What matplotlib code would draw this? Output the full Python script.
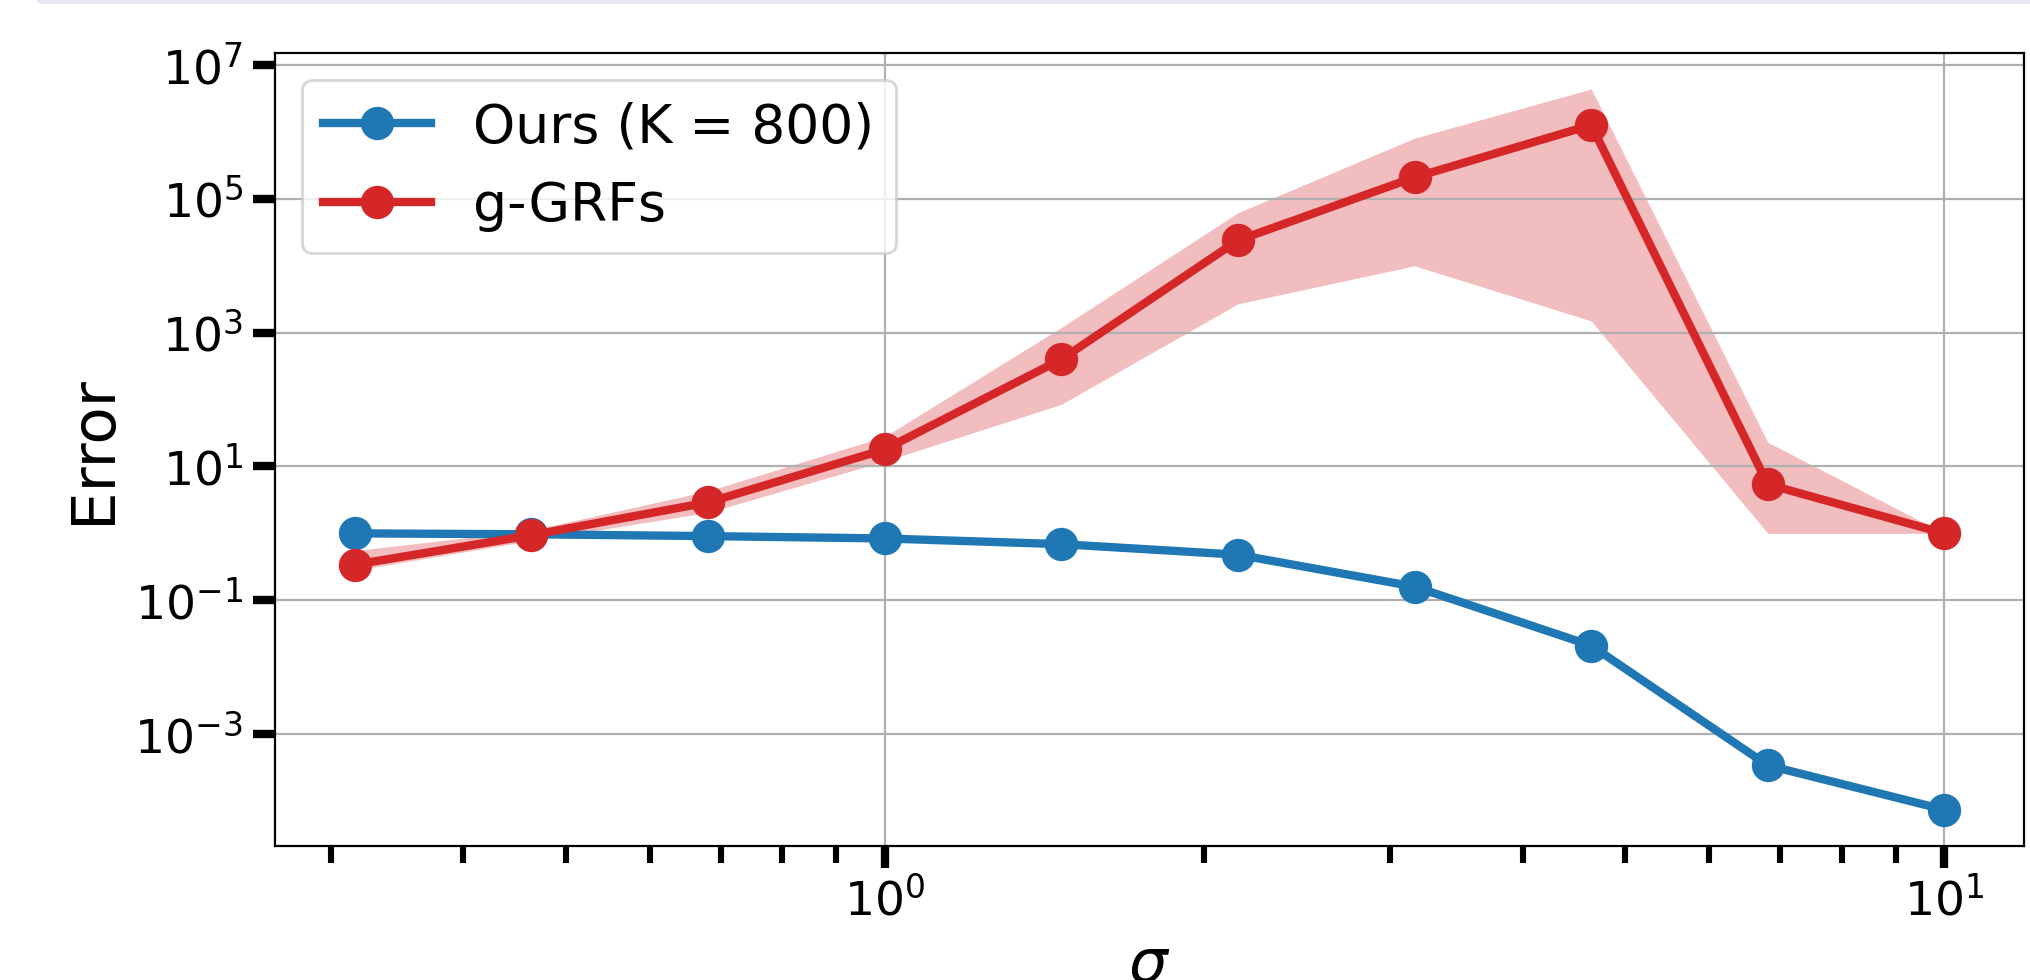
import matplotlib
matplotlib.use('Agg')
import matplotlib.pyplot as plt
import numpy as np
from matplotlib.patches import FancyBboxPatch
from matplotlib.ticker import NullLocator

# sigma values (10 points, 1/6 decade apart from 10^-0.5 to 10^1)
sigma = [0.316, 0.464, 0.681, 1.0, 1.468, 2.154, 3.162, 4.642, 6.813, 10.0]

# Ours (K = 800)
ours = [1.0, 0.97, 0.91, 0.84, 0.69, 0.48, 0.16, 0.021, 3.4e-4, 7.4e-5]

# g-GRFs mean and spread
ggrf = [0.34, 0.94, 2.9, 18.0, 400.0, 2.4e4, 2.1e5, 1.27e6, 5.4, 1.0]
ggrf_hi = [0.55, 1.12, 4.3, 28.0, 1.2e3, 6.2e4, 8.1e5, 4.4e6, 23.0, 1.0]
ggrf_lo = [0.28, 0.78, 2.05, 12.0, 85.0, 2.7e3, 1.0e4, 1.5e3, 1.0, 1.0]

yticks = [1e-3, 1e-1, 1e1, 1e3, 1e5, 1e7]

fig = plt.figure(figsize=(10.15, 4.9), dpi=200)
ax = fig.add_axes([0.1355, 0.137, 0.8615, 0.809])

# light banner strip at the very top (page artefact)
fig.patches.append(FancyBboxPatch((0.018, 0.996), 0.99, 0.02, boxstyle='round,pad=0,rounding_size=0.004',
                                  transform=fig.transFigure, facecolor='#e6e8f2', edgecolor='none'))

ax.plot(sigma, ours, '-o', color='tab:blue', lw=3, ms=11, label='Ours (K = 800)')
ax.fill_between(sigma, ggrf_lo, ggrf_hi, color='tab:red', alpha=0.3, lw=0)
ax.plot(sigma, ggrf, '-o', color='tab:red', lw=3, ms=11, label='g-GRFs')

ax.set_xscale('log')
ax.set_yscale('log')
ax.set_yticks(yticks)
ax.yaxis.set_minor_locator(NullLocator())
ax.grid(True, which='major', color='#b0b0b0', lw=0.8)

ax.tick_params(which='major', length=8, width=3, labelsize=17)
ax.tick_params(which='minor', length=6, width=2.2)
ax.set_xlabel(r'$\sigma$', fontsize=22)
ax.set_ylabel('Error', fontsize=22)
ax.legend(loc='upper left', fontsize=19.3)

fig.savefig('out.png', dpi=200)
